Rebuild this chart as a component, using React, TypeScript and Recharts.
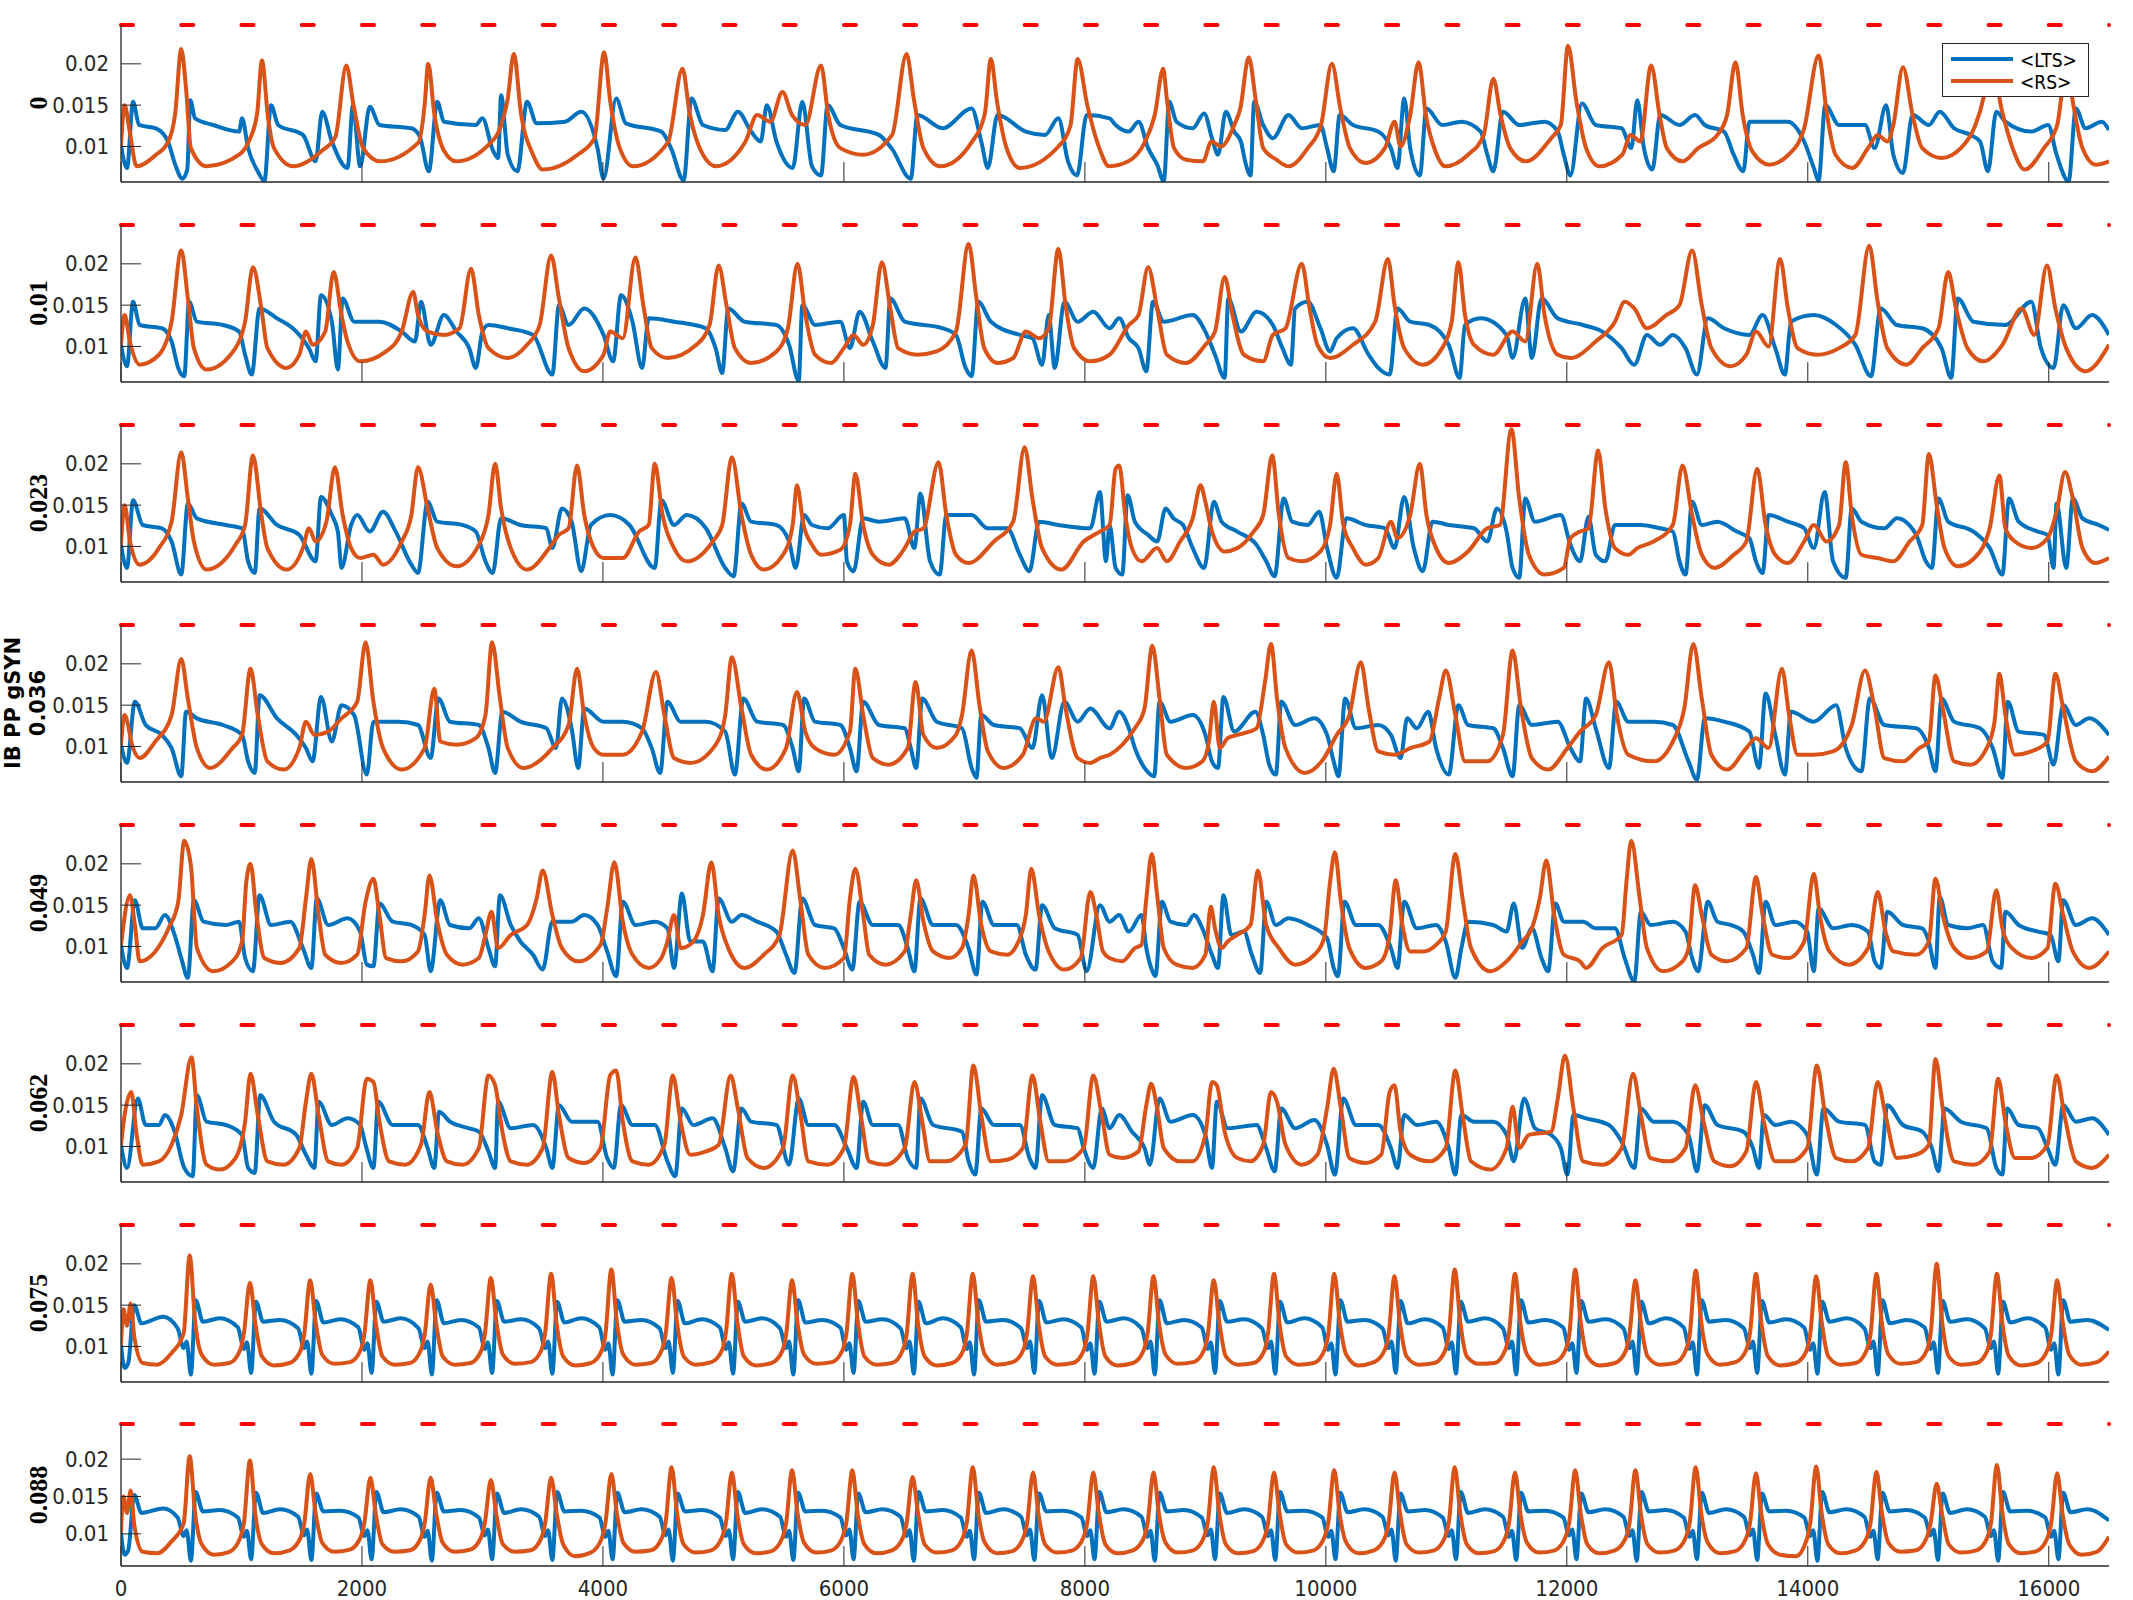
import React from 'react';
import { LineChart, Line, XAxis, YAxis, ReferenceLine } from 'recharts';

// values are [time ms, conductance x 1e-4] pairs
const gsynLabels = ['0', '0.01', '0.023', '0.036', '0.049', '0.062', '0.075', '0.088'];
const xTicks = [0, 2000, 4000, 6000, 8000, 10000, 12000, 14000, 16000];
const yTicks = [0.01, 0.015, 0.02];
const stimStarts = [0, 500, 1000, 1500, 2000, 2500, 3000, 3500, 4000, 4500, 5000, 5500, 6000, 6500, 7000, 7500, 8000, 8500, 9000, 9500, 10000, 10500, 11000, 11500, 12000, 12500, 13000, 13500, 14000, 14500, 15000, 15500, 16000, 16500];
const STIM_LEN = 100;

const rsP1 = [0,101, 30,150, 70,120, 130,76, 290,90, 390,105, 450,140, 500,218, 540,170, 580,98, 710,76, 980,90, 1060,106, 1130,140, 1170,204, 1220,135, 1270,98, 1430,76, 1670,95, 1780,112, 1870,198, 1930,150, 2010,98, 2150,82, 2470,105, 2520,150, 2550,200, 2600,140, 2680,95, 2780,82, 3050,102, 3160,128, 3210,158, 3260,212, 3320,140, 3420,90, 3500,72, 3790,90, 3930,110, 4010,214, 4060,155, 4140,98, 4250,76, 4540,105, 4660,194, 4720,140, 4830,90, 4940,76, 5180,105, 5280,138, 5390,130, 5490,166, 5570,138, 5680,126, 5810,198, 5870,138, 5970,98, 6160,90, 6400,114, 6520,212, 6580,158, 6660,98, 6800,76, 7060,105, 7170,140, 7220,206, 7270,155, 7350,98, 7460,74, 7780,100, 7880,125, 7940,206, 8020,150, 8120,98, 8200,76, 8360,82, 8500,106, 8580,138, 8650,194, 8680,158, 8740,98, 8840,84, 8980,82, 9050,106, 9130,100, 9240,126, 9290,146, 9360,208, 9420,154, 9480,98, 9590,84, 9690,76, 9850,98, 9960,126, 10050,200, 10120,146, 10200,98, 10330,80, 10490,98, 10570,130, 10620,100, 10700,138, 10770,202, 10830,138, 10910,94, 10990,76, 11180,90, 11310,114, 11390,182, 11450,138, 11530,98, 11660,82, 11870,110, 11950,126, 12010,222, 12080,154, 12160,98, 12270,76, 12460,90, 12530,114, 12610,106, 12700,198, 12770,138, 12830,98, 12960,82, 13090,98, 13250,114, 13330,138, 13400,202, 13460,138, 13540,94, 13680,78, 13840,90, 13970,122, 14090,210, 14160,138, 14230,90, 14370,74, 14500,98, 14580,114, 14660,106, 14710,126, 14790,196, 14870,138, 14950,98, 15110,86, 15270,98, 15380,122, 15460,160, 15510,205, 15620,138, 15700,98, 15800,72, 15960,98, 16070,126, 16150,200, 16200,154, 16280,98, 16390,78, 16500,82];
const ltsP1 = [0,101, 50,74, 100,154, 150,126, 290,122, 390,106, 450,78, 510,61, 550,72, 575,156, 615,134, 765,126, 980,118, 1005,134, 1055,98, 1135,70, 1190,58, 1245,150, 1305,126, 1510,114, 1615,82, 1670,142, 1750,106, 1880,74, 1925,150, 1985,76, 2065,148, 2145,126, 2410,122, 2480,112, 2555,70, 2625,154, 2680,130, 2945,126, 3000,134, 3085,96, 3130,86, 3155,162, 3210,90, 3290,70, 3370,154, 3450,128, 3685,130, 3820,142, 3955,98, 4005,61, 4110,158, 4190,128, 4485,118, 4565,98, 4670,59, 4735,158, 4830,126, 5015,120, 5120,142, 5230,118, 5310,106, 5360,150, 5440,106, 5575,74, 5655,154, 5735,76, 5810,65, 5865,150, 5970,126, 6290,114, 6395,98, 6555,61, 6610,138, 6820,122, 7060,146, 7140,106, 7195,74, 7275,138, 7510,118, 7670,114, 7780,134, 7860,82, 7935,65, 8015,138, 8205,134, 8255,126, 8365,118, 8445,130, 8525,98, 8600,78, 8655,58, 8700,154, 8760,130, 8895,122, 8990,140, 9055,110, 9105,90, 9170,142, 9240,118, 9295,106, 9330,82, 9375,65, 9405,154, 9480,126, 9560,110, 9690,138, 9800,122, 9955,126, 10010,98, 10065,70, 10115,138, 10225,126, 10435,118, 10540,98, 10595,74, 10650,158, 10700,98, 10780,65, 10835,146, 10965,126, 11125,130, 11285,118, 11340,90, 11390,70, 11470,142, 11605,126, 11815,130, 11925,118, 11975,90, 12030,65, 12125,152, 12240,126, 12455,122, 12535,98, 12585,156, 12640,98, 12710,72, 12775,138, 12935,126, 13065,138, 13145,126, 13305,118, 13385,90, 13465,70, 13515,130, 13835,130, 13970,106, 14050,74, 14090,59, 14145,150, 14260,126, 14475,126, 14555,98, 14650,150, 14710,90, 14790,68, 14870,138, 15005,126, 15095,142, 15215,122, 15350,114, 15430,106, 15495,70, 15565,142, 15640,130, 15855,118, 15995,126, 16065,90, 16165,58, 16225,146, 16305,122, 16440,130, 16500,120];

const rsP2 = [0,102, 30,138, 75,105, 155,78, 315,90, 420,130, 500,216, 555,158, 605,98, 710,72, 950,98, 1030,130, 1095,196, 1165,146, 1215,98, 1375,74, 1480,90, 1535,118, 1590,102, 1695,118, 1765,190, 1830,138, 1880,106, 1985,82, 2200,94, 2330,118, 2425,166, 2465,138, 2545,118, 2680,114, 2810,122, 2905,194, 2970,138, 3050,98, 3210,86, 3370,102, 3475,126, 3570,210, 3635,158, 3715,98, 3845,70, 4005,90, 4060,118, 4165,110, 4270,208, 4335,150, 4405,98, 4535,86, 4775,102, 4885,126, 4960,198, 5025,150, 5095,98, 5230,80, 5440,94, 5535,122, 5615,200, 5680,138, 5760,90, 5890,80, 6000,98, 6080,114, 6160,102, 6240,126, 6315,202, 6385,146, 6450,98, 6610,90, 6770,94, 6930,118, 7035,224, 7100,158, 7165,98, 7275,80, 7405,86, 7510,118, 7620,110, 7700,122, 7780,218, 7840,150, 7910,98, 8045,82, 8205,90, 8365,126, 8445,138, 8525,196, 8600,146, 8680,90, 8840,80, 9000,102, 9080,118, 9160,184, 9225,138, 9320,90, 9480,82, 9560,114, 9665,122, 9800,200, 9865,146, 9930,102, 10035,86, 10225,102, 10410,130, 10515,206, 10570,150, 10650,98, 10805,78, 10965,98, 11045,130, 11100,202, 11155,138, 11230,102, 11390,90, 11550,118, 11655,106, 11755,200, 11815,138, 11925,90, 12030,86, 12240,106, 12400,130, 12480,154, 12560,146, 12665,122, 12825,138, 12935,150, 13040,216, 13120,150, 13200,98, 13360,76, 13490,90, 13570,118, 13675,100, 13770,206, 13835,146, 13915,98, 14075,90, 14260,98, 14395,114, 14510,222, 14580,154, 14660,98, 14820,78, 14950,98, 15085,122, 15165,190, 15230,146, 15325,98, 15455,82, 15615,102, 15775,146, 15880,114, 15985,198, 16055,146, 16145,98, 16305,70, 16500,102];
const ltsP2 = [0,102, 50,76, 100,154, 155,126, 340,122, 420,106, 475,74, 525,64, 565,154, 630,130, 845,126, 980,118, 1030,90, 1085,66, 1150,146, 1295,134, 1455,118, 1560,98, 1615,82, 1660,162, 1750,130, 1800,72, 1840,158, 1935,130, 2145,130, 2330,118, 2440,106, 2490,154, 2570,102, 2680,138, 2785,118, 2890,98, 2945,74, 3000,118, 3050,126, 3210,122, 3420,114, 3580,66, 3635,150, 3715,126, 3845,146, 4005,114, 4085,82, 4150,162, 4245,130, 4325,74, 4380,134, 4590,130, 4855,122, 4935,98, 4990,68, 5040,146, 5175,130, 5440,126, 5545,102, 5625,58, 5655,150, 5760,126, 5970,130, 6050,98, 6130,142, 6240,106, 6345,74, 6385,158, 6505,130, 6820,122, 6930,114, 7010,74, 7060,64, 7115,154, 7220,130, 7460,114, 7565,110, 7645,78, 7700,138, 7750,74, 7830,154, 7940,130, 8070,142, 8205,122, 8285,134, 8365,110, 8445,98, 8510,70, 8565,154, 8655,130, 8895,138, 9000,118, 9080,90, 9160,62, 9190,158, 9295,118, 9425,142, 9560,126, 9640,98, 9710,78, 9745,146, 9850,154, 9955,122, 10035,94, 10090,110, 10225,122, 10355,90, 10435,74, 10530,66, 10595,146, 10700,130, 10860,126, 11020,102, 11110,62, 11155,126, 11285,134, 11500,114, 11550,86, 11655,158, 11710,86, 11790,158, 11925,134, 12135,126, 12295,118, 12455,98, 12560,78, 12665,114, 12775,102, 12880,114, 12985,98, 13080,66, 13170,134, 13305,122, 13515,114, 13625,138, 13730,98, 13810,66, 13860,130, 14050,138, 14235,126, 14395,102, 14525,64, 14605,146, 14740,126, 14950,122, 15110,98, 15190,62, 15245,158, 15375,130, 15640,126, 15855,154, 15935,98, 16040,74, 16120,150, 16225,122, 16360,138, 16500,114];

const rsP3 = [0,102, 30,150, 75,106, 155,78, 315,98, 420,130, 500,214, 555,158, 605,106, 710,72, 950,102, 1030,126, 1095,210, 1165,138, 1215,98, 1375,72, 1510,98, 1560,122, 1615,106, 1705,130, 1775,196, 1840,138, 1910,98, 1985,86, 2095,90, 2175,78, 2330,106, 2410,138, 2465,196, 2545,146, 2625,98, 2785,76, 2970,102, 3050,138, 3105,200, 3155,146, 3235,98, 3370,72, 3555,98, 3635,114, 3715,122, 3785,198, 3845,138, 3925,98, 4005,86, 4165,86, 4300,118, 4380,126, 4430,200, 4495,138, 4590,98, 4695,82, 4910,106, 4990,126, 5070,208, 5150,138, 5230,90, 5335,72, 5495,90, 5575,126, 5610,174, 5665,126, 5735,102, 5810,90, 5970,96, 6050,126, 6095,188, 6160,126, 6240,90, 6370,78, 6505,98, 6585,118, 6660,122, 6785,202, 6850,138, 6930,90, 7035,80, 7245,106, 7405,130, 7500,220, 7565,158, 7645,98, 7805,72, 7990,106, 8125,118, 8205,126, 8255,194, 8285,198, 8335,138, 8390,98, 8470,82, 8600,98, 8680,82, 8790,106, 8895,134, 8960,174, 9000,154, 9055,118, 9160,94, 9265,98, 9400,118, 9480,138, 9555,210, 9610,138, 9690,86, 9800,82, 9955,94, 10035,126, 10090,188, 10145,126, 10225,98, 10330,78, 10435,86, 10540,130, 10595,110, 10700,138, 10780,200, 10835,138, 10915,98, 11020,80, 11180,94, 11340,122, 11445,126, 11540,242, 11605,158, 11685,90, 11815,66, 11975,74, 12030,110, 12110,118, 12180,122, 12260,216, 12320,146, 12400,98, 12510,90, 12585,98, 12720,106, 12880,126, 12960,198, 13040,138, 13120,90, 13225,74, 13385,90, 13490,106, 13580,194, 13650,126, 13730,90, 13835,80, 13970,106, 14050,126, 14155,106, 14260,126, 14315,202, 14365,138, 14445,90, 14580,86, 14710,82, 14845,106, 14950,126, 15005,212, 15070,150, 15135,98, 15245,76, 15430,94, 15510,122, 15590,186, 15640,122, 15720,106, 15855,98, 15990,110, 16065,142, 16135,190, 16200,158, 16280,98, 16385,80, 16500,86];
const ltsP3 = [0,102, 50,74, 100,156, 180,126, 340,122, 420,106, 500,66, 555,152, 630,134, 870,126, 1005,122, 1055,82, 1110,68, 1150,146, 1295,126, 1480,114, 1615,82, 1660,160, 1750,138, 1800,118, 1830,74, 1910,126, 1960,138, 2065,118, 2175,142, 2280,118, 2410,78, 2465,68, 2545,154, 2625,130, 2835,126, 2945,118, 3025,82, 3085,68, 3155,134, 3315,126, 3530,122, 3580,98, 3660,146, 3740,130, 3820,70, 3900,126, 4060,138, 4220,126, 4430,74, 4485,156, 4590,126, 4695,138, 4855,122, 5015,74, 5085,64, 5150,152, 5230,130, 5440,126, 5545,106, 5600,74, 5670,138, 5735,126, 5865,122, 6000,138, 6025,82, 6080,70, 6160,134, 6290,130, 6505,134, 6585,98, 6635,164, 6715,82, 6795,66, 6850,138, 7060,138, 7195,122, 7355,122, 7460,90, 7540,70, 7620,130, 7780,126, 8045,122, 8125,166, 8175,82, 8205,126, 8255,74, 8310,66, 8355,162, 8415,130, 8525,114, 8600,106, 8670,146, 8735,134, 8815,126, 8895,98, 8990,74, 9070,154, 9135,130, 9265,118, 9425,102, 9505,82, 9575,64, 9650,158, 9720,130, 9850,126, 9945,142, 10010,98, 10090,62, 10170,134, 10330,126, 10490,122, 10570,98, 10650,160, 10730,98, 10805,70, 10885,130, 11020,126, 11230,122, 11340,106, 11420,146, 11500,118, 11550,74, 11605,62, 11655,158, 11735,130, 11950,138, 12030,102, 12110,82, 12180,136, 12240,90, 12320,82, 12400,126, 12615,126, 12775,122, 12880,118, 12935,82, 12985,66, 13040,154, 13120,126, 13250,130, 13410,118, 13515,110, 13570,82, 13625,68, 13675,138, 13835,130, 13970,122, 14050,98, 14140,166, 14210,82, 14315,62, 14365,146, 14445,130, 14635,122, 14740,134, 14900,114, 14980,82, 15030,74, 15085,158, 15165,130, 15375,118, 15510,98, 15615,66, 15670,158, 15750,130, 15910,118, 15990,114, 16040,74, 16065,152, 16145,74, 16200,158, 16280,134, 16415,126, 16500,120];

const rsP4 = [0,102, 30,138, 100,98, 155,86, 285,106, 420,138, 500,206, 555,158, 630,98, 740,74, 925,98, 1005,114, 1075,194, 1135,138, 1215,82, 1350,72, 1480,98, 1535,130, 1605,114, 1720,118, 1830,134, 1960,154, 2030,226, 2095,154, 2175,98, 2330,72, 2520,98, 2600,170, 2650,106, 2785,102, 2945,110, 3025,138, 3080,226, 3145,158, 3210,98, 3340,74, 3580,98, 3715,126, 3785,194, 3845,138, 3925,98, 4005,90, 4165,90, 4325,118, 4440,190, 4510,138, 4590,86, 4725,80, 4935,102, 5015,138, 5070,208, 5150,146, 5230,90, 5360,72, 5520,98, 5610,166, 5680,118, 5760,98, 5920,90, 6050,118, 6095,194, 6160,138, 6240,86, 6370,78, 6530,98, 6595,178, 6660,114, 6770,98, 6930,114, 6980,138, 7060,216, 7125,150, 7195,94, 7325,74, 7485,90, 7595,134, 7660,130, 7780,196, 7840,146, 7940,86, 8045,80, 8125,86, 8205,90, 8310,102, 8415,122, 8495,146, 8560,222, 8620,158, 8680,90, 8840,74, 8975,82, 9030,106, 9070,154, 9120,98, 9185,110, 9265,114, 9425,122, 9495,178, 9545,224, 9595,158, 9665,98, 9825,68, 9985,86, 10090,114, 10195,138, 10290,202, 10355,146, 10435,94, 10570,90, 10700,98, 10860,106, 10940,158, 10995,192, 11075,138, 11155,82, 11340,82, 11470,114, 11550,216, 11620,146, 11710,86, 11845,72, 12005,98, 12110,118, 12240,138, 12350,202, 12415,138, 12510,90, 12720,82, 12880,106, 12975,146, 13050,224, 13120,158, 13200,90, 13330,72, 13490,98, 13570,110, 13675,98, 13785,194, 13845,138, 13915,90, 14050,90, 14210,94, 14365,126, 14475,192, 14555,146, 14635,86, 14790,82, 14925,98, 15005,106, 15060,186, 15120,146, 15215,82, 15350,78, 15485,98, 15550,130, 15590,188, 15640,138, 15720,90, 15855,94, 15990,106, 16055,188, 16120,146, 16225,82, 16360,70, 16500,88];
const ltsP4 = [0,102, 50,80, 115,154, 205,126, 340,114, 420,98, 500,64, 540,142, 630,134, 845,126, 1005,114, 1055,82, 1110,68, 1150,162, 1295,134, 1455,114, 1535,98, 1590,82, 1660,160, 1750,106, 1830,150, 1935,138, 2040,66, 2095,130, 2305,130, 2465,126, 2570,86, 2635,158, 2730,130, 2970,126, 3050,98, 3105,68, 3165,142, 3315,130, 3530,122, 3610,98, 3660,158, 3740,122, 3795,74, 3845,146, 4005,130, 4165,130, 4325,122, 4405,98, 4475,68, 4535,154, 4645,130, 4855,130, 5015,118, 5095,66, 5165,158, 5280,130, 5495,126, 5575,98, 5625,70, 5670,158, 5760,130, 5970,126, 6050,98, 6105,70, 6160,154, 6290,126, 6505,122, 6555,98, 6600,74, 6650,158, 6770,130, 6980,122, 7060,74, 7100,62, 7140,138, 7245,126, 7460,122, 7565,98, 7645,162, 7725,86, 7830,154, 7940,130, 8045,146, 8205,122, 8285,142, 8365,122, 8415,98, 8495,74, 8575,64, 8620,154, 8710,130, 8895,138, 9000,114, 9055,82, 9105,74, 9150,160, 9240,118, 9415,142, 9480,114, 9530,78, 9585,66, 9630,154, 9745,126, 9905,134, 10010,114, 10065,82, 10105,64, 10160,158, 10250,122, 10435,126, 10540,114, 10620,86, 10675,134, 10755,122, 10850,142, 10915,98, 11020,66, 11100,150, 11180,126, 11390,122, 11470,98, 11550,64, 11605,150, 11710,126, 11925,130, 12030,98, 12110,82, 12160,158, 12240,122, 12350,74, 12410,154, 12510,130, 12720,130, 12880,126, 13010,82, 13080,60, 13145,134, 13305,130, 13515,118, 13595,74, 13650,164, 13730,114, 13810,66, 13860,142, 14050,130, 14235,150, 14315,98, 14395,74, 14445,70, 14515,158, 14635,126, 14900,122, 15005,98, 15060,70, 15110,158, 15215,130, 15430,122, 15535,98, 15615,62, 15660,154, 15750,118, 15960,114, 16040,78, 16120,150, 16225,126, 16335,134, 16500,114];

const rsP5 = [0,102, 75,162, 115,126, 155,82, 285,94, 395,122, 475,154, 525,228, 580,198, 630,98, 765,70, 925,82, 1005,106, 1040,178, 1075,200, 1125,138, 1190,86, 1325,80, 1480,98, 1535,158, 1580,206, 1640,138, 1695,90, 1830,80, 1960,90, 2030,154, 2095,182, 2145,138, 2200,86, 2330,82, 2465,94, 2520,138, 2560,186, 2625,130, 2705,90, 2835,78, 2970,86, 3025,114, 3075,142, 3130,98, 3235,114, 3370,126, 3450,158, 3500,192, 3580,138, 3660,98, 3795,82, 3980,102, 4035,146, 4095,202, 4165,130, 4245,90, 4380,74, 4485,86, 4535,106, 4590,138, 4645,98, 4750,106, 4830,138, 4900,202, 4960,138, 5040,98, 5175,74, 5335,90, 5465,114, 5575,216, 5640,154, 5705,90, 5840,74, 6000,86, 6050,158, 6095,194, 6160,138, 6210,90, 6345,78, 6505,94, 6555,138, 6600,180, 6660,130, 6740,94, 6875,86, 6980,98, 7035,138, 7075,186, 7140,126, 7220,94, 7355,90, 7435,102, 7510,138, 7555,194, 7620,138, 7700,94, 7830,72, 7965,86, 8045,166, 8095,138, 8150,94, 8205,86, 8310,82, 8415,98, 8470,102, 8510,158, 8555,212, 8600,162, 8655,98, 8760,78, 8895,74, 9000,90, 9045,148, 9080,122, 9135,98, 9185,106, 9265,114, 9375,126, 9435,192, 9505,126, 9610,98, 9745,78, 9905,90, 9985,110, 10035,178, 10075,214, 10125,154, 10195,98, 10330,74, 10460,82, 10530,114, 10580,180, 10635,126, 10700,94, 10805,94, 10915,102, 10995,118, 11075,212, 11135,158, 11205,98, 11365,70, 11500,82, 11550,90, 11630,106, 11710,122, 11775,158, 11830,204, 11895,138, 11975,90, 12110,82, 12160,74, 12295,98, 12455,114, 12495,178, 12535,228, 12605,158, 12665,98, 12800,70, 12960,82, 13010,98, 13065,174, 13120,138, 13200,90, 13330,82, 13490,98, 13570,184, 13625,138, 13705,90, 13835,86, 13970,106, 14050,188, 14100,138, 14180,94, 14340,78, 14500,98, 14580,166, 14645,118, 14710,94, 14900,90, 15005,106, 15060,182, 15120,138, 15215,98, 15350,86, 15485,94, 15565,168, 15615,122, 15695,98, 15855,86, 15990,98, 16055,176, 16120,138, 16200,94, 16335,74, 16500,94];
const ltsP5 = [0,102, 50,74, 115,156, 180,122, 285,122, 365,138, 445,114, 500,86, 555,62, 605,156, 685,130, 870,126, 980,130, 1030,86, 1095,70, 1150,162, 1245,126, 1405,130, 1510,98, 1580,74, 1625,158, 1720,126, 1880,134, 1985,118, 2040,78, 2095,76, 2145,152, 2255,130, 2410,126, 2520,114, 2570,70, 2650,156, 2730,126, 2890,122, 2970,134, 3050,98, 3105,76, 3145,162, 3235,126, 3315,106, 3420,90, 3500,72, 3580,130, 3740,130, 3845,138, 3955,126, 4035,94, 4110,64, 4165,154, 4270,126, 4430,130, 4535,122, 4590,74, 4655,164, 4725,106, 4830,106, 4910,70, 4960,158, 5070,130, 5150,138, 5280,130, 5440,118, 5520,90, 5590,68, 5655,158, 5760,126, 5920,122, 6000,98, 6070,72, 6130,154, 6240,126, 6450,126, 6530,98, 6585,70, 6635,158, 6740,126, 6930,126, 7035,98, 7100,66, 7150,154, 7245,126, 7435,126, 7510,90, 7590,72, 7645,150, 7750,122, 7940,114, 8015,70, 8125,150, 8205,130, 8285,138, 8365,118, 8470,138, 8510,98, 8550,74, 8585,64, 8640,154, 8710,130, 8840,126, 8905,138, 8975,122, 9055,90, 9105,74, 9150,162, 9215,114, 9320,118, 9385,90, 9455,68, 9505,154, 9585,126, 9690,134, 9850,126, 10010,110, 10065,74, 10100,64, 10155,154, 10250,126, 10435,126, 10540,98, 10595,74, 10650,154, 10755,122, 10915,126, 10995,106, 11075,62, 11125,98, 11180,130, 11390,126, 11500,118, 11560,152, 11630,98, 11710,122, 11790,86, 11845,70, 11905,152, 11975,130, 12135,130, 12240,122, 12400,122, 12480,86, 12560,58, 12615,142, 12695,126, 12880,130, 12985,118, 13040,86, 13090,70, 13170,154, 13250,130, 13360,126, 13465,118, 13545,90, 13595,68, 13650,154, 13730,126, 13890,130, 13995,118, 14050,70, 14090,146, 14210,122, 14365,126, 14500,118, 14555,82, 14605,74, 14660,142, 14790,126, 14950,122, 15005,106, 15060,74, 15095,160, 15165,126, 15325,122, 15455,126, 15535,82, 15605,74, 15640,142, 15750,126, 15910,118, 16015,114, 16080,82, 16120,156, 16225,126, 16360,134, 16500,114];

const rsP6 = [0,102, 30,138, 85,166, 130,114, 180,78, 315,82, 420,102, 500,138, 585,208, 630,146, 710,78, 820,72, 950,86, 1030,130, 1075,188, 1135,138, 1215,82, 1350,78, 1480,98, 1535,154, 1580,188, 1640,138, 1720,82, 1830,78, 1960,98, 2040,182, 2095,178, 2145,130, 2225,82, 2360,78, 2490,102, 2560,166, 2625,118, 2705,82, 2835,78, 2970,98, 3050,186, 3105,174, 3165,118, 3235,82, 3370,78, 3500,98, 3580,190, 3635,138, 3715,86, 3845,80, 3980,98, 4060,186, 4110,192, 4165,130, 4245,82, 4380,78, 4510,102, 4580,186, 4645,130, 4725,90, 4855,94, 4960,102, 5060,186, 5120,146, 5200,86, 5335,74, 5495,98, 5575,186, 5640,138, 5705,82, 5865,78, 6000,98, 6080,184, 6140,138, 6210,82, 6345,78, 6505,98, 6585,178, 6650,130, 6715,82, 6850,82, 7010,102, 7075,198, 7140,138, 7220,82, 7355,84, 7485,98, 7565,186, 7630,130, 7700,82, 7830,82, 7990,98, 8070,186, 8140,138, 8205,90, 8310,86, 8445,94, 8510,150, 8550,176, 8600,146, 8655,98, 8790,82, 8895,82, 9000,114, 9055,178, 9095,174, 9160,118, 9265,86, 9375,82, 9480,102, 9545,166, 9595,154, 9665,102, 9800,78, 9930,90, 10010,146, 10065,194, 10125,146, 10195,86, 10330,80, 10460,90, 10530,166, 10570,174, 10620,118, 10700,90, 10860,82, 10995,98, 11075,192, 11135,138, 11205,82, 11365,72, 11500,98, 11550,148, 11605,98, 11685,114, 11870,118, 11925,158, 11985,210, 12055,146, 12135,82, 12295,78, 12455,98, 12550,188, 12615,138, 12695,86, 12855,82, 12985,98, 13065,174, 13135,130, 13225,82, 13360,76, 13490,94, 13570,178, 13635,130, 13730,82, 13860,82, 13995,98, 14075,198, 14145,138, 14235,86, 14365,82, 14500,98, 14580,178, 14645,138, 14740,86, 14900,90, 15005,102, 15060,206, 15120,146, 15215,82, 15375,78, 15510,94, 15580,182, 15640,130, 15720,86, 15855,86, 15990,102, 16065,186, 16130,138, 16225,82, 16360,74, 16500,90];
const ltsP6 = [0,102, 50,74, 140,158, 205,126, 315,126, 365,138, 445,118, 525,74, 595,64, 630,162, 710,130, 870,126, 1005,114, 1055,74, 1110,68, 1155,162, 1270,130, 1455,114, 1535,90, 1605,74, 1640,154, 1750,126, 1880,134, 1985,126, 2030,102, 2095,74, 2135,154, 2255,126, 2465,126, 2545,98, 2600,74, 2640,142, 2730,130, 2890,122, 2970,118, 3050,94, 3105,74, 3130,154, 3235,122, 3420,126, 3530,98, 3580,74, 3635,150, 3740,130, 3955,130, 4035,86, 4090,74, 4150,150, 4245,126, 4430,126, 4535,82, 4600,64, 4655,146, 4750,126, 4910,134, 5015,98, 5080,70, 5150,146, 5230,130, 5440,126, 5545,78, 5625,158, 5705,126, 5920,126, 6025,98, 6105,74, 6160,154, 6240,126, 6450,126, 6530,86, 6600,74, 6635,158, 6740,126, 6980,118, 7035,82, 7090,66, 7140,146, 7245,126, 7460,126, 7540,86, 7590,74, 7645,162, 7750,126, 7940,122, 7990,98, 8070,74, 8140,146, 8205,122, 8285,138, 8390,118, 8495,98, 8540,78, 8620,158, 8710,130, 8895,138, 9000,114, 9055,74, 9095,154, 9185,122, 9425,126, 9505,98, 9575,70, 9630,146, 9745,122, 9905,132, 10010,102, 10075,66, 10145,158, 10250,126, 10435,126, 10540,98, 10595,74, 10650,138, 10755,126, 10915,130, 11020,98, 11075,66, 11125,138, 11230,130, 11390,130, 11500,114, 11560,82, 11645,158, 11735,122, 11870,114, 11950,98, 12005,66, 12055,138, 12160,134, 12350,126, 12455,106, 12560,74, 12615,146, 12720,130, 12880,130, 13010,114, 13080,70, 13145,150, 13250,126, 13465,118, 13545,98, 13595,74, 13635,138, 13730,126, 13860,130, 13995,114, 14075,66, 14130,146, 14260,130, 14475,126, 14555,82, 14605,78, 14660,150, 14790,126, 14950,118, 15030,98, 15085,70, 15135,146, 15270,130, 15485,122, 15565,74, 15615,66, 15655,146, 15750,126, 15910,122, 15990,98, 16055,78, 16120,150, 16225,130, 16360,134, 16500,114];

const rsP7 = [0,102, 20,145, 50,125, 80,152, 110,112, 180,80, 300,78, 420,92, 520,116,
  570,210, 615,130, 670,90, 770,78, 900,80, 990,96, 1020,116,
  1070,177, 1115,128, 1170,88, 1270,77, 1400,80, 1490,95, 1520,114,
  1570,180, 1615,130, 1670,90, 1770,79, 1900,81, 1990,96, 2020,115,
  2070,180, 2115,128, 2170,88, 2270,78, 2400,80, 2490,96, 2520,114,
  2570,175, 2615,128, 2670,88, 2770,78, 2900,80, 2990,95, 3020,115,
  3070,183, 3115,130, 3170,90, 3270,79, 3400,81, 3490,96, 3520,116,
  3570,188, 3615,128, 3670,88, 3770,77, 3900,80, 3990,95, 4020,114,
  4070,193, 4115,130, 4170,90, 4270,78, 4400,80, 4490,96, 4520,115,
  4570,183, 4615,128, 4670,88, 4770,78, 4900,81, 4990,96, 5020,116,
  5070,188, 5115,130, 5170,88, 5270,77, 5400,80, 5490,95, 5520,114,
  5570,180, 5615,128, 5670,90, 5770,79, 5900,81, 5990,96, 6020,115,
  6070,188, 6115,130, 6170,88, 6270,78, 6400,80, 6490,96, 6520,114,
  6570,188, 6615,128, 6670,88, 6770,77, 6900,80, 6990,95, 7020,115,
  7070,188, 7115,130, 7170,90, 7270,78, 7400,81, 7490,96, 7520,116,
  7570,185, 7615,128, 7670,88, 7770,78, 7900,80, 7990,95, 8020,114,
  8070,185, 8115,130, 8170,88, 8270,77, 8400,80, 8490,96, 8520,115,
  8570,185, 8615,128, 8670,90, 8770,79, 8900,81, 8990,96, 9020,114,
  9070,180, 9115,130, 9170,88, 9270,78, 9400,80, 9490,95, 9520,116,
  9570,188, 9615,128, 9670,88, 9770,78, 9900,80, 9990,96, 10020,115,
  10070,188, 10115,130, 10170,90, 10270,77, 10400,81, 10490,96, 10520,114,
  10570,185, 10615,128, 10670,88, 10770,78, 10900,80, 10990,95, 11020,115,
  11070,193, 11115,130, 11170,88, 11270,79, 11400,80, 11490,96, 11520,116,
  11570,188, 11615,128, 11670,90, 11770,78, 11900,81, 11990,96, 12020,114,
  12070,193, 12115,130, 12170,88, 12270,77, 12400,80, 12490,95, 12520,115,
  12570,180, 12615,128, 12670,88, 12770,78, 12900,80, 12990,96, 13020,114,
  13070,192, 13115,130, 13170,90, 13270,78, 13400,81, 13490,96, 13520,116,
  13570,188, 13615,128, 13670,88, 13770,77, 13900,80, 13990,95, 14020,115,
  14070,185, 14115,130, 14170,88, 14270,78, 14400,80, 14490,96, 14520,114,
  14570,188, 14615,128, 14670,90, 14770,79, 14900,81, 14990,96, 15020,116,
  15070,200, 15115,130, 15170,88, 15270,78, 15400,80, 15490,95, 15520,115,
  15570,188, 15615,128, 15670,88, 15770,77, 15900,80, 15990,96, 16020,114,
  16070,180, 16115,130, 16170,90, 16270,78, 16400,81, 16500,94];
const ltsP7 = [0,102, 30,74, 60,80, 110,150, 170,128, 350,136, 470,122,
  520,98, 545,106, 580,66, 620,156, 680,130, 820,134, 970,123,
  1020,97, 1045,105, 1080,68, 1120,154, 1180,130, 1320,132, 1470,122,
  1520,98, 1545,106, 1580,67, 1620,155, 1680,129, 1820,133, 1970,123,
  2020,96, 2045,104, 2080,68, 2120,154, 2180,130, 2320,134, 2470,122,
  2520,98, 2545,106, 2580,66, 2620,156, 2680,128, 2820,132, 2970,123,
  3020,97, 3045,105, 3080,68, 3120,155, 3180,130, 3320,133, 3470,122,
  3520,98, 3545,106, 3580,67, 3620,154, 3680,129, 3820,134, 3970,123,
  4020,96, 4045,104, 4080,66, 4120,156, 4180,130, 4320,132, 4470,122,
  4520,98, 4545,106, 4580,68, 4620,155, 4680,128, 4820,133, 4970,123,
  5020,97, 5045,105, 5080,67, 5120,154, 5180,130, 5320,134, 5470,122,
  5520,98, 5545,106, 5580,66, 5620,156, 5680,129, 5820,132, 5970,123,
  6020,96, 6045,104, 6080,68, 6120,155, 6180,130, 6320,133, 6470,122,
  6520,98, 6545,106, 6580,67, 6620,154, 6680,128, 6820,134, 6970,123,
  7020,97, 7045,105, 7080,66, 7120,156, 7180,130, 7320,132, 7470,122,
  7520,98, 7545,106, 7580,68, 7620,155, 7680,129, 7820,133, 7970,123,
  8020,96, 8045,104, 8080,67, 8120,154, 8180,130, 8320,134, 8470,122,
  8520,98, 8545,106, 8580,66, 8620,156, 8680,128, 8820,132, 8970,123,
  9020,97, 9045,105, 9080,68, 9120,155, 9180,130, 9320,133, 9470,122,
  9520,98, 9545,106, 9580,67, 9620,154, 9680,129, 9820,134, 9970,123,
  10020,96, 10045,104, 10080,66, 10120,156, 10180,130, 10320,132, 10470,122,
  10520,98, 10545,106, 10580,68, 10620,155, 10680,128, 10820,133, 10970,123,
  11020,97, 11045,105, 11080,67, 11120,154, 11180,130, 11320,134, 11470,122,
  11520,98, 11545,106, 11580,66, 11620,156, 11680,129, 11820,132, 11970,123,
  12020,96, 12045,104, 12080,68, 12120,155, 12180,130, 12320,133, 12470,122,
  12520,98, 12545,106, 12580,67, 12620,154, 12680,128, 12820,134, 12970,123,
  13020,97, 13045,105, 13080,66, 13120,156, 13180,130, 13320,132, 13470,122,
  13520,98, 13545,106, 13580,68, 13620,155, 13680,129, 13820,133, 13970,123,
  14020,96, 14045,104, 14080,67, 14120,154, 14180,130, 14320,134, 14470,122,
  14520,98, 14545,106, 14580,66, 14620,156, 14680,128, 14820,132, 14970,123,
  15020,97, 15045,105, 15080,68, 15120,155, 15180,130, 15320,133, 15470,122,
  15520,98, 15545,106, 15580,67, 15620,154, 15680,129, 15820,134, 15970,123,
  16020,96, 16045,104, 16080,66, 16120,156, 16180,130, 16320,132, 16500,120];

const rsP8 = [0,102, 20,150, 50,128, 80,158, 110,112, 180,76, 300,74, 420,90, 520,114,
  570,204, 615,128, 670,86, 770,72, 900,76, 990,95, 1020,114,
  1070,198, 1115,126, 1170,86, 1270,74, 1400,78, 1490,95, 1520,113,
  1570,180, 1615,128, 1670,88, 1770,76, 1900,79, 1990,96, 2020,115,
  2070,175, 2115,126, 2170,86, 2270,76, 2400,78, 2490,95, 2520,114,
  2570,175, 2615,128, 2670,88, 2770,76, 2900,79, 2990,96, 3020,115,
  3070,172, 3115,126, 3170,86, 3270,76, 3400,78, 3490,95, 3520,114,
  3570,175, 3615,128, 3670,86, 3770,70, 3900,75, 3990,94, 4020,114,
  4070,180, 4115,128, 4170,88, 4270,76, 4400,78, 4490,95, 4520,115,
  4570,189, 4615,128, 4670,86, 4770,75, 4900,78, 4990,96, 5020,114,
  5070,182, 5115,126, 5170,86, 5270,74, 5400,77, 5490,95, 5520,114,
  5570,185, 5615,128, 5670,88, 5770,75, 5900,78, 5990,96, 6020,115,
  6070,185, 6115,126, 6170,86, 6270,74, 6400,78, 6490,95, 6520,114,
  6570,176, 6615,128, 6670,86, 6770,75, 6900,78, 6990,96, 7020,115,
  7070,189, 7115,128, 7170,88, 7270,74, 7400,77, 7490,95, 7520,114,
  7570,182, 7615,126, 7670,86, 7770,75, 7900,78, 7990,96, 8020,115,
  8070,182, 8115,128, 8170,86, 8270,74, 8400,78, 8490,95, 8520,114,
  8570,182, 8615,126, 8670,88, 8770,75, 8900,78, 8990,96, 9020,115,
  9070,189, 9115,128, 9170,86, 9270,74, 9400,77, 9490,95, 9520,114,
  9570,182, 9615,128, 9670,86, 9770,75, 9900,78, 9990,96, 10020,115,
  10070,185, 10115,126, 10170,88, 10270,74, 10400,78, 10490,95, 10520,114,
  10570,182, 10615,128, 10670,86, 10770,75, 10900,78, 10990,96, 11020,115,
  11070,189, 11115,128, 11170,86, 11270,74, 11400,77, 11490,95, 11520,114,
  11570,182, 11615,126, 11670,88, 11770,75, 11900,78, 11990,96, 12020,115,
  12070,185, 12115,128, 12170,86, 12270,74, 12400,78, 12490,95, 12520,114,
  12570,185, 12615,126, 12670,86, 12770,75, 12900,78, 12990,96, 13020,115,
  13070,189, 13115,128, 13170,88, 13270,74, 13400,77, 13490,95, 13520,114,
  13570,181, 13615,126, 13670,86, 13770,72, 13900,70, 13990,92, 14020,114,
  14070,190, 14115,128, 14170,86, 14270,74, 14400,78, 14490,95, 14520,114,
  14570,183, 14615,128, 14670,88, 14770,76, 14900,78, 14990,96, 15020,115,
  15070,167, 15115,126, 15170,86, 15270,75, 15400,78, 15490,95, 15520,114,
  15570,192, 15615,128, 15670,86, 15770,74, 15900,77, 15990,95, 16020,114,
  16070,181, 16115,126, 16170,86, 16270,72, 16400,76, 16500,96];
const ltsP8 = [0,102, 30,72, 60,78, 110,152, 170,128, 350,134, 470,122,
  520,97, 545,105, 580,64, 620,156, 680,130, 820,132, 970,122,
  1020,96, 1045,104, 1080,66, 1120,155, 1180,128, 1320,133, 1470,123,
  1520,98, 1545,106, 1580,65, 1620,154, 1680,130, 1820,131, 1970,122,
  2020,97, 2045,105, 2080,66, 2120,156, 2180,129, 2320,133, 2470,123,
  2520,96, 2545,104, 2580,64, 2620,155, 2680,130, 2820,132, 2970,122,
  3020,98, 3045,106, 3080,66, 3120,154, 3180,128, 3320,133, 3470,123,
  3520,97, 3545,105, 3580,65, 3620,156, 3680,130, 3820,131, 3970,122,
  4020,96, 4045,104, 4080,66, 4120,155, 4180,129, 4320,133, 4470,123,
  4520,98, 4545,106, 4580,64, 4620,154, 4680,130, 4820,132, 4970,122,
  5020,97, 5045,105, 5080,66, 5120,156, 5180,128, 5320,133, 5470,123,
  5520,96, 5545,104, 5580,65, 5620,155, 5680,130, 5820,131, 5970,122,
  6020,98, 6045,106, 6080,66, 6120,154, 6180,129, 6320,133, 6470,123,
  6520,97, 6545,105, 6580,64, 6620,156, 6680,130, 6820,132, 6970,122,
  7020,96, 7045,104, 7080,66, 7120,155, 7180,128, 7320,133, 7470,123,
  7520,98, 7545,106, 7580,65, 7620,154, 7680,130, 7820,131, 7970,122,
  8020,97, 8045,105, 8080,66, 8120,156, 8180,129, 8320,133, 8470,123,
  8520,96, 8545,104, 8580,64, 8620,155, 8680,130, 8820,132, 8970,122,
  9020,98, 9045,106, 9080,66, 9120,154, 9180,128, 9320,133, 9470,123,
  9520,97, 9545,105, 9580,65, 9620,156, 9680,130, 9820,131, 9970,122,
  10020,96, 10045,104, 10080,66, 10120,155, 10180,129, 10320,133, 10470,123,
  10520,98, 10545,106, 10580,64, 10620,154, 10680,130, 10820,132, 10970,122,
  11020,97, 11045,105, 11080,66, 11120,156, 11180,128, 11320,133, 11470,123,
  11520,96, 11545,104, 11580,65, 11620,155, 11680,130, 11820,131, 11970,122,
  12020,98, 12045,106, 12080,66, 12120,154, 12180,129, 12320,133, 12470,123,
  12520,97, 12545,105, 12580,64, 12620,156, 12680,130, 12820,132, 12970,122,
  13020,96, 13045,104, 13080,66, 13120,155, 13180,128, 13320,133, 13470,123,
  13520,98, 13545,106, 13580,65, 13620,154, 13680,130, 13820,131, 13970,122,
  14020,97, 14045,105, 14080,64, 14120,156, 14180,129, 14320,133, 14470,123,
  14520,96, 14545,104, 14580,66, 14620,155, 14680,130, 14820,132, 14970,122,
  15020,98, 15045,106, 15080,65, 15120,154, 15180,128, 15320,133, 15470,123,
  15520,97, 15545,105, 15580,64, 15620,156, 15680,130, 15820,131, 15970,122,
  16020,96, 16045,104, 16080,66, 16120,155, 16180,129, 16320,133, 16500,118];

const LTS_COLOR = '#0072BD';
const RS_COLOR = '#D95319';
const AXIS = '#262626';
const FONT = "'DejaVu Sans Condensed', 'DejaVu Sans', sans-serif";
const Y_MIN = 0.0057;
const Y_MAX = 0.0247;
const T_MAX = 16500;

const toPoints = (flat: number[]) => {
  const out: { t: number; v: number }[] = [];
  for (let i = 0; i < flat.length; i += 2) out.push({ t: flat[i], v: flat[i + 1] / 10000 });
  return out;
};

const panels = [
  { label: gsynLabels[0], lts: ltsP1, rs: rsP1 },
  { label: gsynLabels[1], lts: ltsP2, rs: rsP2 },
  { label: gsynLabels[2], lts: ltsP3, rs: rsP3 },
  { label: gsynLabels[3], lts: ltsP4, rs: rsP4 },
  { label: gsynLabels[4], lts: ltsP5, rs: rsP5 },
  { label: gsynLabels[5], lts: ltsP6, rs: rsP6 },
  { label: gsynLabels[6], lts: ltsP7, rs: rsP7 },
  { label: gsynLabels[7], lts: ltsP8, rs: rsP8 },
];

const PAD_TOP = 10;
const X_AXIS_H = 44;
const panelTop = (i: number) => (i < 7 ? 24.5 + 200 * i : 1424);
const panelHeight = (i: number) => (i < 7 ? 157 : 142);

const XTick = (props: any) => {
  const { x, y, payload, showLabel } = props;
  return (
    <g>
      <line x1={x} x2={x} y1={y} y2={y - 20} stroke={AXIS} strokeWidth={1} />
      {showLabel && (
        <text x={x} y={y + 22} textAnchor="middle" dominantBaseline="central" fill={AXIS} fontSize={22} fontFamily={FONT}>
          {payload.value}
        </text>
      )}
    </g>
  );
};

const YTick = (props: any) => {
  const { x, y, payload } = props;
  return (
    <g>
      <line x1={x} x2={x + 20} y1={y} y2={y} stroke={AXIS} strokeWidth={1} />
      <text x={x - 12} y={y} textAnchor="end" dominantBaseline="central" fill={AXIS} fontSize={22} fontFamily={FONT}>
        {String(payload.value)}
      </text>
    </g>
  );
};

const Panel = ({ index }: { index: number }) => {
  const p = panels[index];
  const h = panelHeight(index);
  const last = index === panels.length - 1;
  return (
    <div style={{ position: 'absolute', left: 0, top: panelTop(index) - PAD_TOP }}>
      <LineChart width={2133} height={h + PAD_TOP + X_AXIS_H} margin={{ top: PAD_TOP, right: 24, bottom: 0, left: 0 }}>
        <XAxis
          dataKey="t"
          type="number"
          domain={[0, T_MAX]}
          allowDataOverflow
          ticks={xTicks}
          interval={0}
          tickSize={0}
          tickMargin={0}
          tickLine={false}
          height={X_AXIS_H}
          axisLine={{ stroke: AXIS, strokeWidth: 1.3 }}
          tick={(tp: any) => <XTick {...tp} showLabel={last} />}
        />
        <YAxis
          type="number"
          domain={[Y_MIN, Y_MAX]}
          allowDataOverflow
          ticks={yTicks}
          interval={0}
          width={121}
          tickSize={0}
          tickMargin={0}
          tickLine={false}
          axisLine={{ stroke: AXIS, strokeWidth: 1.3 }}
          tick={(tp: any) => <YTick {...tp} />}
        />
        {stimStarts.map((s) => (
          <ReferenceLine
            key={s}
            segment={[{ x: s, y: Y_MAX }, { x: Math.min(s + STIM_LEN, T_MAX), y: Y_MAX }]}
            stroke="#FF0000"
            strokeWidth={4}
            strokeLinecap="round"
            ifOverflow="visible"
          />
        ))}
        <Line data={toPoints(p.lts)} dataKey="v" type="monotoneX" stroke={LTS_COLOR} strokeWidth={4} dot={false} strokeLinejoin="round" isAnimationActive={false} />
        <Line data={toPoints(p.rs)} dataKey="v" type="monotoneX" stroke={RS_COLOR} strokeWidth={4} dot={false} strokeLinejoin="round" isAnimationActive={false} />
      </LineChart>
    </div>
  );
};

export default function App() {
  return (
    <div style={{ position: 'absolute', left: 0, top: 0, width: 2133, height: 1600, background: '#fff', fontFamily: FONT }}>
      {panels.map((_, i) => (
        <Panel key={i} index={i} />
      ))}
      <svg width={2133} height={1600} style={{ position: 'absolute', left: 0, top: 0, pointerEvents: 'none' }}>
        {panels.map((p, i) => {
          const cy = panelTop(i) + panelHeight(i) / 2;
          const sans = i === 3;
          return (
            <g key={i}>
              {sans && (
                <text transform={`translate(13, ${cy}) rotate(-90)`} textAnchor="middle" dominantBaseline="central" fontWeight="bold" fontSize={21} fontFamily="'DejaVu Sans', sans-serif" fill="#000">
                  IB PP gSYN
                </text>
              )}
              <text
                transform={`translate(38, ${cy}) rotate(-90)`}
                textAnchor="middle"
                dominantBaseline="central"
                fontWeight="bold"
                fontSize={sans ? 21 : 26}
                fontFamily={sans ? "'DejaVu Sans', sans-serif" : "'Liberation Serif', serif"}
                fill="#000"
              >
                {p.label}
              </text>
            </g>
          );
        })}
      </svg>
      <div style={{ position: 'absolute', left: 1942, top: 43, width: 147, height: 54, boxSizing: 'border-box', border: '1px solid #262626', background: '#fff' }}>
        <svg width={145} height={52}>
          <line x1={8} x2={70} y1={15} y2={15} stroke={LTS_COLOR} strokeWidth={4} />
          <text x={77} y={16} dominantBaseline="central" fontSize={19} fontFamily={FONT} fill="#000">&lt;LTS&gt;</text>
          <line x1={8} x2={70} y1={37} y2={37} stroke={RS_COLOR} strokeWidth={4} />
          <text x={77} y={38} dominantBaseline="central" fontSize={19} fontFamily={FONT} fill="#000">&lt;RS&gt;</text>
        </svg>
      </div>
    </div>
  );
}
